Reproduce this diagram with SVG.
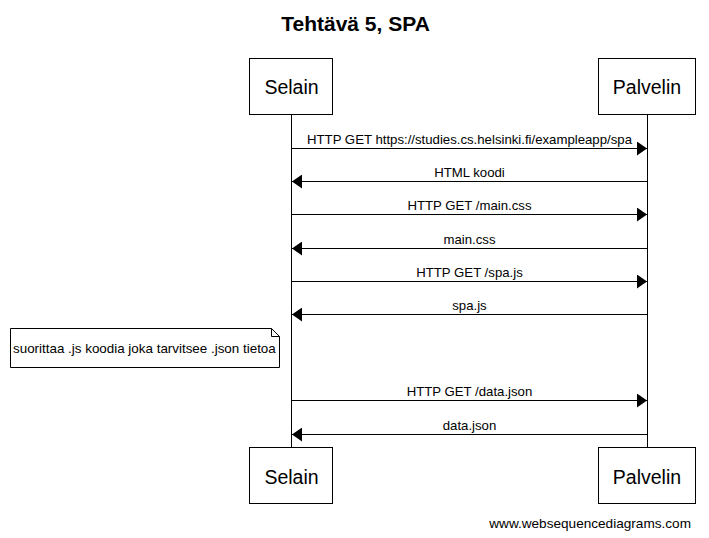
<svg xmlns="http://www.w3.org/2000/svg" width="709" height="538" viewBox="0 0 709 538">
<defs>
<style>
text{font-family:"Liberation Sans",Arial,sans-serif;fill:#000}
.box{fill:#fff;stroke:#000;stroke-width:1}
.life{stroke:#000;stroke-width:1}
.msg{stroke:#000;stroke-width:1;fill:none}
.part{font-size:19.5px;text-anchor:middle}
.lbl{font-size:13.2px;text-anchor:middle}
.title{font-size:21px;font-weight:bold;text-anchor:middle}
</style>
<marker id="ah" viewBox="0 0 10 14" refX="10" refY="7" markerWidth="10" markerHeight="14" markerUnits="userSpaceOnUse" orient="auto">
<path d="M0,0 L10,7 L0,14 Z" fill="#000"/>
</marker>
</defs>
<rect width="709" height="538" fill="#fff"/>
<text class="title" x="355.5" y="31">Tehtävä 5, SPA</text>
<g id="lifelines">
<line class="life" x1="291.5" y1="114" x2="291.5" y2="447"/>
<line class="life" x1="647.5" y1="114" x2="647.5" y2="447"/>
</g>
<g id="selain-top"><rect class="box" x="249.5" y="58.5" width="83" height="56"/><text class="part" x="291.5" y="94">Selain</text></g>
<g id="palvelin-top"><rect class="box" x="598.5" y="58.5" width="97" height="56"/><text class="part" x="647" y="94">Palvelin</text></g>
<g id="selain-bottom"><rect class="box" x="249.5" y="447.5" width="83" height="56"/><text class="part" x="291.5" y="484">Selain</text></g>
<g id="palvelin-bottom"><rect class="box" x="598.5" y="447.5" width="97" height="56"/><text class="part" x="647" y="484">Palvelin</text></g>
<g id="note">
<path class="box" d="M10.5,328.5 H271.5 L279.5,336.5 V367.5 H10.5 Z"/>
<path class="msg" d="M271.5,328.5 V336.5 H279.5"/>
<text x="13" y="353" style="font-size:13.4px">suorittaa .js koodia joka tarvitsee .json tietoa</text>
</g>
<g id="connectors">
<line class="msg" x1="291.5" y1="148.5" x2="647" y2="148.5" marker-end="url(#ah)"/>
<line class="msg" x1="647.5" y1="181.5" x2="292" y2="181.5" marker-end="url(#ah)"/>
<line class="msg" x1="291.5" y1="214.5" x2="647" y2="214.5" marker-end="url(#ah)"/>
<line class="msg" x1="647.5" y1="248.5" x2="292" y2="248.5" marker-end="url(#ah)"/>
<line class="msg" x1="291.5" y1="281.5" x2="647" y2="281.5" marker-end="url(#ah)"/>
<line class="msg" x1="647.5" y1="314.5" x2="292" y2="314.5" marker-end="url(#ah)"/>
<line class="msg" x1="291.5" y1="400.5" x2="647" y2="400.5" marker-end="url(#ah)"/>
<line class="msg" x1="647.5" y1="434.5" x2="292" y2="434.5" marker-end="url(#ah)"/>
</g>
<g id="labels">
<text class="lbl" x="469.5" y="144">HTTP GET https://studies.cs.helsinki.fi/exampleapp/spa</text>
<text class="lbl" x="469.5" y="177">HTML koodi</text>
<text class="lbl" x="469.5" y="210">HTTP GET /main.css</text>
<text class="lbl" x="469.5" y="244">main.css</text>
<text class="lbl" x="469.5" y="277">HTTP GET /spa.js</text>
<text class="lbl" x="469.5" y="310">spa.js</text>
<text class="lbl" x="469.5" y="396">HTTP GET /data.json</text>
<text class="lbl" x="469.5" y="430">data.json</text>
</g>
<text x="691" y="528" style="font-size:13.6px;text-anchor:end">www.websequencediagrams.com</text>
</svg>
